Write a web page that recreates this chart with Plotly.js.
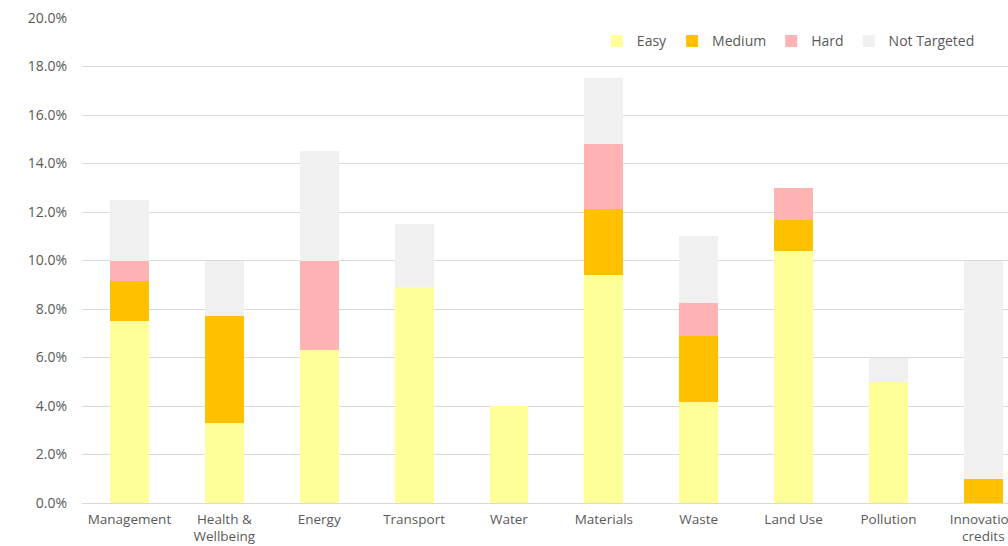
<!DOCTYPE html>
<html>
<head>
<meta charset="utf-8">
<script src="https://cdn.plot.ly/plotly-3.0.1.min.js"></script>
<style>html,body{margin:0;padding:0;background:#fff;}#chart{width:1008px;height:546px;}</style>
</head>
<body>
<div id="chart"></div>
<script>
const categories = ["Management", "Health &<br>Wellbeing", "Energy", "Transport", "Water", "Materials", "Waste", "Land Use", "Pollution", "Innovation<br>credits"];
const easy        = [7.5, 3.3, 6.3, 8.9, 4.0, 9.4, 4.15, 10.4, 5.0, 0];
const medium      = [1.65, 4.4, 0, 0, 0, 2.73, 2.73, 1.27, 0, 1.0];
const hard        = [0.85, 0, 3.7, 0, 0, 2.68, 1.35, 1.33, 0, 0];
const notTargeted = [2.5, 2.3, 4.5, 2.6, 0, 2.7, 2.77, 0, 1.0, 9.0];
const yTicks = [0, 2, 4, 6, 8, 10, 12, 14, 16, 18, 20];
const yTickText = yTicks.map(v => v.toFixed(1) + "%");

const font = {family: "'Open Sans', Lato, sans-serif", size: 14, color: "#595959"};
const xFont = {family: font.family, size: 13.5, color: "#595959"};
function tr(name, y, color) {
  return {type: "bar", name: name, x: categories, y: y, marker: {color: color}, hoverinfo: "x+y+name"};
}
const data = [
  tr("Easy", easy, "#FFFF99"),
  tr("Medium", medium, "#FFC000"),
  tr("Hard", hard, "#FFB3B3"),
  tr("Not Targeted", notTargeted, "#F0F0F0")
];
const layout = {
  width: 1008, height: 546,
  barmode: "stack", bargap: 0.59,
  margin: {l: 82, r: 0, t: 18, b: 43},
  paper_bgcolor: "#fff", plot_bgcolor: "#fff",
  font: font,
  showlegend: true,
  legend: {orientation: "h", x: 0.556, xanchor: "left", y: 0.985, yanchor: "top",
           font: {family: font.family, size: 14, color: "#595959"}, itemwidth: 30, traceorder: "normal", bgcolor: "rgba(0,0,0,0)"},
  xaxis: {type: "category", range: [-0.5, 9.26], tickfont: xFont, showgrid: false, showline: false, ticks: "", ticklabelstandoff: 6, automargin: false},
  yaxis: {range: [0, 20], tickvals: yTicks, ticktext: yTickText, tickfont: font,
          showgrid: true, gridcolor: "#D9D9D9", gridwidth: 1, zeroline: true, zerolinecolor: "#D9D9D9", zerolinewidth: 1,
          showline: false, ticks: "", ticklabelstandoff: 14, automargin: false}
};
Plotly.newPlot("chart", data, layout, {displayModeBar: false, staticPlot: true});
</script>
</body>
</html>
